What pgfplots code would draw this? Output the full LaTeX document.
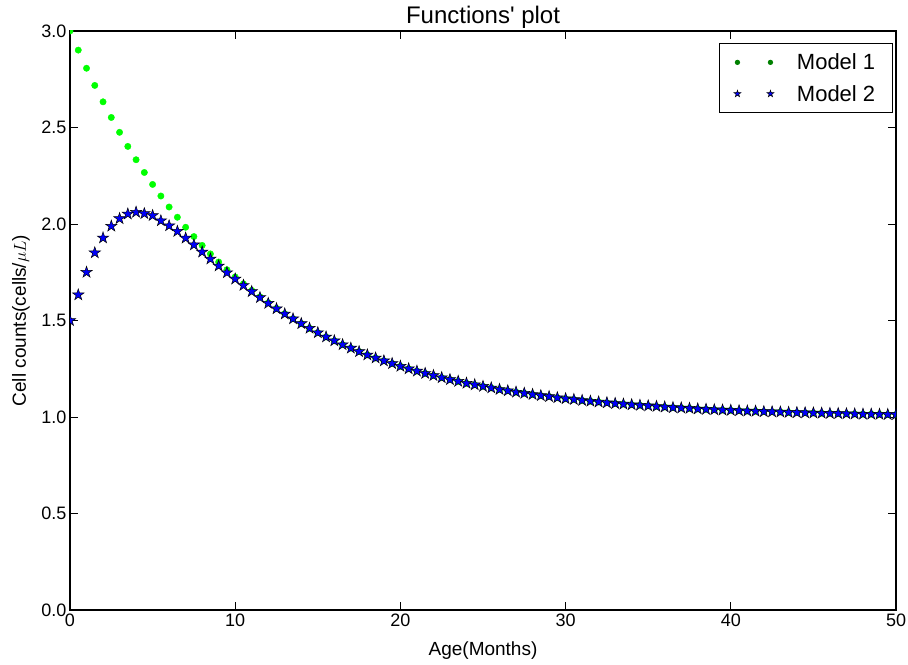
\documentclass[border=0pt]{standalone}
\usepackage{pgfplots}
\pgfplotsset{compat=1.18}
\usepackage{pgfplotstable}
\usepackage{fontspec}
\setmainfont{Liberation Sans}
\definecolor{dotgreen}{RGB}{0,255,0}
\definecolor{leggreen}{RGB}{0,128,0}
\definecolor{starblue}{RGB}{0,0,250}
\pgfdeclareplotmark{fstar}{%
  \pgfpathmoveto{\pgfpointpolar{90}{\pgfplotmarksize}}%
  \pgfpathlineto{\pgfpointpolar{126}{0.382*\pgfplotmarksize}}%
  \pgfpathlineto{\pgfpointpolar{162}{\pgfplotmarksize}}%
  \pgfpathlineto{\pgfpointpolar{198}{0.382*\pgfplotmarksize}}%
  \pgfpathlineto{\pgfpointpolar{234}{\pgfplotmarksize}}%
  \pgfpathlineto{\pgfpointpolar{270}{0.382*\pgfplotmarksize}}%
  \pgfpathlineto{\pgfpointpolar{306}{\pgfplotmarksize}}%
  \pgfpathlineto{\pgfpointpolar{342}{0.382*\pgfplotmarksize}}%
  \pgfpathlineto{\pgfpointpolar{18}{\pgfplotmarksize}}%
  \pgfpathlineto{\pgfpointpolar{54}{0.382*\pgfplotmarksize}}%
  \pgfpathclose
  \pgfusepathqfillstroke}
\pgfplotstableread{
x m1 m2
0 3.000 1.500
0.5 2.901 1.633
1 2.807 1.750
1.5 2.718 1.851
2 2.633 1.928
2.5 2.552 1.989
3 2.475 2.028
3.5 2.402 2.052
4 2.333 2.061
4.5 2.267 2.054
5 2.205 2.044
5.5 2.145 2.017
6 2.088 1.991
6.5 2.035 1.962
7 1.983 1.927
7.5 1.935 1.892
8 1.889 1.855
8.5 1.845 1.819
9 1.803 1.783
9.5 1.763 1.748
10 1.726 1.715
10.5 1.690 1.682
11 1.656 1.650
11.5 1.623 1.619
12 1.592 1.589
12.5 1.563 1.561
13 1.535 1.534
13.5 1.509 1.509
14 1.484 1.484
14.5 1.460 1.460
15 1.437 1.437
15.5 1.415 1.415
16 1.395 1.395
16.5 1.375 1.375
17 1.357 1.357
17.5 1.339 1.339
18 1.322 1.322
18.5 1.306 1.306
19 1.291 1.291
19.5 1.277 1.277
20 1.263 1.263
20.5 1.250 1.250
21 1.238 1.238
21.5 1.226 1.226
22 1.215 1.215
22.5 1.204 1.204
23 1.194 1.194
23.5 1.185 1.185
24 1.175 1.175
24.5 1.167 1.167
25 1.159 1.159
25.5 1.151 1.151
26 1.143 1.143
26.5 1.136 1.136
27 1.129 1.129
27.5 1.123 1.123
28 1.117 1.117
28.5 1.111 1.111
29 1.106 1.106
29.5 1.100 1.100
30 1.095 1.095
30.5 1.091 1.091
31 1.086 1.086
31.5 1.082 1.082
32 1.078 1.078
32.5 1.074 1.074
33 1.070 1.070
33.5 1.067 1.067
34 1.064 1.064
34.5 1.061 1.061
35 1.058 1.058
35.5 1.055 1.055
36 1.052 1.052
36.5 1.049 1.049
37 1.047 1.047
37.5 1.045 1.045
38 1.042 1.042
38.5 1.040 1.040
39 1.038 1.038
39.5 1.036 1.036
40 1.035 1.035
40.5 1.033 1.033
41 1.031 1.031
41.5 1.030 1.030
42 1.028 1.028
42.5 1.027 1.027
43 1.026 1.026
43.5 1.024 1.024
44 1.023 1.023
44.5 1.022 1.022
45 1.021 1.021
45.5 1.020 1.020
46 1.019 1.019
46.5 1.018 1.018
47 1.017 1.017
47.5 1.016 1.016
48 1.015 1.015
48.5 1.015 1.015
49 1.014 1.014
49.5 1.013 1.013
50 1.013 1.013
}\datatable
\begin{document}
\begin{tikzpicture}
\begin{axis}[
  scale only axis,
  width=826pt, height=579pt,
  xmin=0, xmax=50, ymin=0, ymax=3,
  xtick={0,10,20,30,40,50},
  ytick={0,0.5,1,1.5,2,2.5,3},
  yticklabel style={/pgf/number format/.cd, fixed, fixed zerofill, precision=1},
  /pgf/number format/assume math mode=true,
  tick align=inside,
  major tick length=8pt,
  tick style={line width=0.9pt, black},
  axis line style={line width=1.2pt},
  ticklabel style={font=\fontsize{18}{21}\selectfont},
  title={Functions\textquotesingle\ plot},
  title style={font=\fontsize{24}{28}\selectfont, at={([yshift=1.5pt]axis description cs:0.5,1)}, anchor=base},
  xlabel={Age(Months)},
  ylabel={Cell counts(cells/$\mu L$)},
  xlabel style={font=\fontsize{19}{22}\selectfont, at={([yshift=-45pt]axis description cs:0.5,0)}, anchor=base},
  ylabel style={font=\fontsize{19}{22}\selectfont, at={([xshift=-44pt]axis description cs:0,0.5)}, anchor=base},
  clip marker paths=true,
  legend style={at={(rel axis cs:0.996,0.979)}, anchor=north east,
    draw=black, line width=1pt, font=\fontsize{22}{26}\selectfont,
    inner xsep=15pt, inner ysep=8pt, row sep=10pt},
  legend cell align=left,
]
\addplot[only marks, mark=*, mark size=3.2pt, dotgreen, mark options={draw=none, fill=dotgreen},
  legend image code/.code={
    \fill[leggreen] (0pt,0pt) circle (2.1pt);
    \fill[leggreen] (33pt,0pt) circle (2.1pt);
    \path (0pt,0pt) (57pt,0pt);
  }] table[x=x, y=m1] {\datatable};
\addlegendentry{Model 1}
\addplot[only marks, mark=fstar, mark size=6pt, mark options={draw=black, fill=starblue, line width=0.5pt},
  legend image code/.code={
    \path[draw=black, fill=starblue, line width=0.4pt, mark size=3.6pt]
      plot[mark=fstar, only marks] coordinates {(0pt,0pt) (33pt,0pt)};
    \path (0pt,0pt) (57pt,0pt);
  }] table[x=x, y=m2] {\datatable};
\addlegendentry{Model 2}
\end{axis}
\pgfresetboundingbox
\path (current axis.south west) ++(-70pt,-54pt);
\path (current axis.north east) ++(12pt,31pt);
\end{tikzpicture}
\end{document}
